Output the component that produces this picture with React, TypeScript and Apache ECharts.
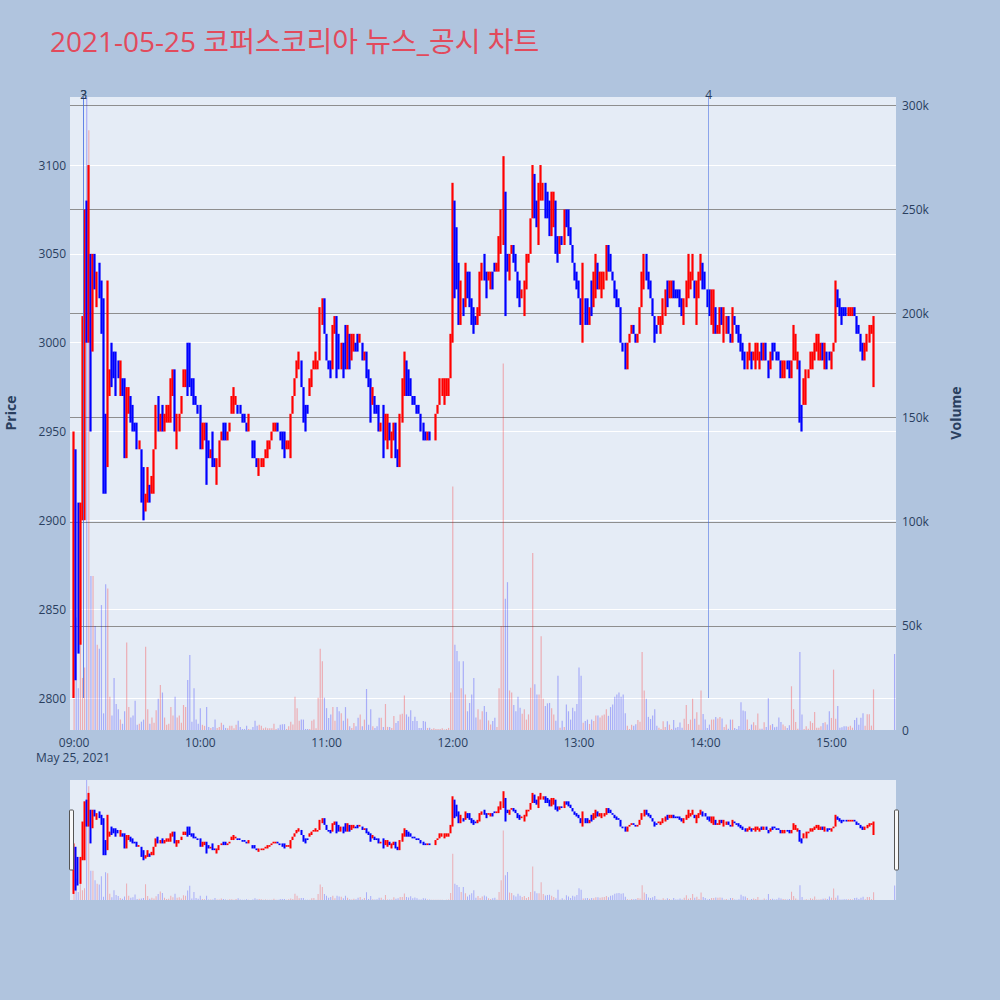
import React, { useEffect, useRef } from 'react';
import * as echarts from 'echarts';

// ---------------- data ----------------
const chartTitle = '2021-05-25 코퍼스코리아 뉴스_공시 차트';
const sessionDay = { year: 2021, month: 5, day: 25 };
const firstBarTime = '09:00';
const dateCaption = 'May 25, 2021';

// one bar per minute from 09:00: [open, close, low?, high?]
const priceBars: number[][] = [
  [2800,2950,2800,2950],[2940,2815,2810,2940],[2905,2830,2825,2910],[2830,2905,2830,2910],[2910,3015,2900,3015],[2900,3075],[3080,3005,3000,3080],[3040,3050,3000,3100],[3050,3000,2950,3050],[3000,3050,2995,3050],
  [3050,3030],[3020,3040],[3045,3025],[3035,3005],[3025,2960,2915,3025],[2960,2935,2915,2960],[2930,2980,2930,3035],[2970,2985],[3000,2980,2975,3000],[2995,2985,2980,2995],
  [2995,2970],[2990,2980],[2970,2990],[2980,2970],[2980,2935],[2935,2975],[2965,2975,2960,2975],[2970,2955],[2965,2950],[2955,2950],
  [2955,2940],[2940,2945],[2940,2930,2910,2940],[2930,2900],[2905,2915],[2915,2930,2910,2930],[2920,2910],[2915,2925],[2915,2940],[2940,2965],
  [2970,2950],[2950,2960],[2965,2950],[2950,2960],[2955,2965],[2955,2965],[2965,2980,2955,2980],[2970,2985],[2980,2950,2950,2985],[2940,2960],
  [2950,2960],[2960,2970],[2975,2985],[2975,2985],[3000,2970],[3000,2975],[2980,2970],[2980,2965],[2970,2965],[2965,2960],
  [2965,2940],[2940,2955],[2945,2955],[2955,2935,2920,2955],[2945,2935],[2935,2940],[2950,2930],[2935,2930],[2930,2935,2920,2935],[2930,2945],
  [2945,2950],[2955,2945],[2955,2945],[2945,2950],[2950,2955],[2960,2965,2960,2970],[2960,2970,2960,2975],[2965,2970],[2965,2960],[2965,2960],
  [2960,2955],[2960,2955],[2955,2950],[2950,2955,2950,2960],[2950,2950],[2945,2935],[2945,2935],[2935,2930],[2930,2935,2925,2935],[2930,2935],
  [2930,2935],[2935,2940],[2940,2945,2935,2945],[2940,2945],[2945,2950],[2950,2955],[2950,2955],[2955,2950],[2950,2945],[2950,2940],
  [2950,2935],[2940,2945],[2940,2945],[2935,2960],[2960,2970],[2970,2980],[2980,2990],[2985,2995],[2990,2975],[2975,2955],
  [2965,2950],[2965,2960],[2970,2980],[2975,2985],[2985,2990],[2985,2990,2985,2995],[2985,2990],[2990,3020],[3010,3025],[3025,3005],
  [3005,2990],[2990,2985],[2990,2980],[2985,3010],[3005,3015],[3015,2985,2980,3015],[3005,2985],[2985,3000],[3000,2985,2980,3000],[3010,2985],
  [2985,3010],[3005,2985],[2990,3005],[2995,3005],[3000,2995],[3005,2995],[3000,3005],[3000,2990],[2990,2995],[2995,2980],
  [2985,2975],[2980,2955],[2965,2975],[2970,2960],[2965,2960],[2965,2950],[2950,2955],[2965,2935],[2945,2960],[2940,2960],
  [2955,2945],[2935,2950],[2945,2955],[2955,2935],[2940,2930],[2930,2960],[2955,2980],[2970,2990,2970,2995],[2990,2970],[2985,2970],
  [2980,2970],[2970,2965],[2970,2965],[2965,2960],[2965,2960],[2960,2950],[2955,2945],[2950,2945],[2945,2950],[2950,2945],
  [2945,2945],[2945,2945],[2945,2960],[2960,2965],[2965,2980],[2970,2980],[2965,2980],[2970,2980],[2970,2980],[2980,3005],
  [3000,3065,3000,3090],[3080,3025],[3065,3030],[3045,3010],[3010,3035],[3025,3015],[3020,3045],[3040,3025],[3040,3020],[3025,3010],
  [3020,3005],[3015,3010],[3010,3020],[3015,3040],[3035,3045],[3050,3035],[3040,3025],[3035,3040],[3030,3040],[3040,3030],
  [3045,3040],[3040,3045],[3040,3060],[3050,3070,3050,3075],[3055,3100,3055,3105],[3085,3045,3015,3085],[3050,3040],[3035,3050],[3050,3055],[3055,3045],
  [3050,3040],[3040,3025],[3035,3020],[3025,3030],[3015,3035],[3030,3050],[3045,3050],[3050,3070],[3070,3100],[3095,3070],
  [3080,3065],[3065,3090,3055,3090],[3080,3095,3080,3100],[3080,3090],[3090,3070],[3085,3070],[3080,3060],[3060,3085],[3065,3085],[3080,3050],
  [3060,3045],[3050,3060],[3060,3055],[3055,3075],[3075,3065],[3075,3060],[3065,3055],[3055,3045],[3045,3035],[3040,3030],
  [3035,3025],[3025,3010],[3015,3025,3000,3045],[3025,3010],[3025,3010],[3010,3020],[3035,3015],[3020,3035,3020,3040],[3025,3040,3025,3050],[3045,3030],
  [3030,3040],[3025,3040],[3030,3040],[3035,3055],[3055,3040],[3050,3040],[3040,3035],[3035,3025],[3030,3020],[3025,3020],
  [3020,3000],[3000,2995],[3000,2985],[2985,3000],[3000,3005],[3005,3010],[3010,3005],[3005,3000],[3000,3005],[3005,3020],
  [3020,3040],[3030,3050],[3050,3035],[3040,3030],[3035,3025],[3025,3015],[3015,3000],[3010,3005],[3010,3015],[3005,3015],
  [3010,3025],[3015,3030],[3035,3020],[3025,3035],[3025,3035],[3035,3025],[3030,3025],[3030,3025],[3030,3020],[3025,3015],
  [3010,3025],[3020,3035],[3025,3040,3025,3050],[3030,3040],[3035,3050],[3035,3025],[3010,3035],[3025,3040],[3035,3050],[3045,3030],
  [3040,3030],[3030,3020],[3030,3015],[3010,3030],[3005,3030],[3020,3005],[3005,3010],[3005,3020],[3020,3010],[3000,3020],
  [3005,3015],[3015,3005],[3005,3000],[3000,3015,3000,3020],[3015,3010],[3010,3005],[3010,3000],[3005,2995],[3000,2990],[2995,2985],
  [2985,2995],[2990,3000],[2995,2985],[2990,2995],[2985,3000],[2990,3000],[2985,2995],[3000,2990],[2990,3000],[3000,2990],
  [2990,2980],[2985,2995],[3000,2990],[3000,2995],[2995,2990],[2995,2990],[2990,2980],[2980,2990],[2980,2990],[2990,2985],
  [2990,2980],[2980,2990],[2990,3005,2990,3010],[2990,3000,2990,3005],[2985,2995],[2990,2955],[2965,2955,2950,2965],[2965,2980],[2965,2985],[2980,2985],
  [2985,2995],[2985,2995],[2990,3000],[2995,3005],[2990,3005],[2990,3000],[3000,2990],[2985,3000],[2995,2985],[2995,2990],
  [2985,2995],[2995,3000],[3000,3030,3000,3035],[3030,3020],[3025,3015],[3020,3015,3010,3020],[3020,3015],[3020,3015],[3015,3020],[3015,3020],
  [3015,3020],[3020,3015],[3015,3005],[3010,3005],[3005,2995],[3000,2995,2990,3000],[2990,3000],[2995,3005],[3000,3010],[3005,3010],
  [3005,3015,2975,3015],
];

// volume per minute bar, in thousands of shares
const volumesK: number[] = [
  15,54,20,95,25,30,305,288,74,74,
  50,41,39,60,8,70,68,16,7,25,
  12.5,10,5,3,9,42,11,6,7,14,
  2.5,3,4,5,40,10,3,6,3.5,9.5,
  15,21.6,18,6,2.5,3,11,7,16,6,
  7,3.5,12,11,24,36,4,20,5,3,
  10.5,2.5,2,11,1.5,1,1.5,5,1,1.5,
  3.5,2.5,1,0.8,2,2,0.8,2.5,4.5,1.5,
  0.5,0.5,2,0.5,0.3,1.5,4.5,2,2.5,2,
  0.8,1.2,0.8,0.8,0.8,3,0.5,0.8,2.5,2.8,
  2.8,0.5,1.8,4,2.6,16,10.5,4.5,5,5,
  0.5,0.5,0.5,4.5,5,0.8,15.5,39,33,15.5,
  10.5,5.8,7.4,11,4.5,11,9,8,4.5,11,
  5.5,1.8,1,3.4,1.8,5.9,7.5,1.8,5,19.7,
  2.5,10,1.8,1,1.8,5.9,5.9,1.5,12.5,1.5,
  1.5,1,6.7,3.4,4.3,7.5,7.8,16.6,7.5,6.4,
  9.5,4.3,6.4,4.3,1,1,4.3,4,1,1.1,
  0.5,0.8,0.5,0.5,0.5,0.8,0.3,0.5,1,18,
  117,41,38,33,20,33,17,9,13,17,
  25,6,10,5,9,11.5,8.7,4.6,2.7,4.3,
  5.9,1.4,20,50,176,63,71,19,18,12,
  9,16,10.7,7.8,10,5,7.5,20.3,85,22,
  17,17,45,15,11.5,12.8,13,10.5,7.5,4.5,
  26,1.1,4.5,1.4,12.3,9,5,10.7,9,12.5,
  30,26,3.5,4.3,5,2.9,5,4.3,7,7,
  6,7,7.5,10,6.8,11,12.3,16,17,18,
  16,17,8,2,0.5,2.5,2,2.8,4.8,4,
  37.4,19,15,6.3,5.3,7,10,2,1.1,0.5,
  4.2,1.5,4.2,2.6,0.5,4.8,1.1,1.4,3.6,1.1,
  5.4,12,2.9,5,15,5.4,8.5,2.5,19,7.7,
  5,1,2.6,5,5,6.3,5.5,6.3,5.5,1.4,
  2.6,0.6,5,5,1,0.5,1.9,13.3,9.4,9,
  5,0.5,2.6,3.7,2.3,7.9,0.6,0.6,3.7,1.4,
  15.3,2.3,2.9,1.3,1.6,6,3.9,2.6,1.8,1,
  2.3,21,10,3.9,0.6,37.4,7.4,0.5,1.8,0.6,
  4.2,3.4,8.7,1.1,1.1,1.8,3.4,3.7,2.6,9,
  5.8,29,5.4,11.5,1.1,1.3,1.8,1.8,1.6,2.1,
  1.1,4.8,5.9,2.5,5.9,8,2.1,7.6,7.6,2.1,
  19.5,
];

// closing auction print at 15:30
const closingTime = '15:30';
const closingBar = [3000, 3000, 3000, 3000];
const closingVolumeK = 36.5;

// news markers
const newsLabels = ['2', '3', '4'];
const newsTimes = ['09:04:30', '09:04:30', '14:01:40'];
const newsLineFloor = 2800;

// axis ranges / ticks
const priceRange = [2782, 3138.3];
const priceStep = 50;
const volumeRangeK = [0, 304];
const volumeStepK = 50;
const timeRange = ['08:58:20', '15:30:24'];

// ---------------- styling ----------------
const FONT = "'Open Sans', 'Noto Sans CJK KR', sans-serif";
const AXIS_TEXT = '#2a3f5f';
const UP = '#ff0000';
const DOWN = '#0000ff';
const UP_VOL = 'rgba(255,0,0,0.27)';
const DOWN_VOL = 'rgba(0,0,255,0.27)';

function ts(hms: string): number {
  const [h, m, s = 0] = hms.split(':').map(Number);
  return new Date(sessionDay.year, sessionDay.month - 1, sessionDay.day, h, m, s).getTime();
}

function buildSeriesData() {
  const start = ts(firstBarTime);
  const candles: any[] = [];
  const vols: any[] = [];
  let prevClose = priceBars[0][0];
  priceBars.forEach((b, i) => {
    const [o, c, l, h] = b;
    const low = Math.min(o, c, l ?? o);
    const high = Math.max(o, c, h ?? c);
    const t = start + i * 60000;
    const up = c > o || (c === o && c >= prevClose);
    candles.push({ value: [t, o, c, low, high] });
    vols.push({ value: [t, volumesK[i]], itemStyle: { color: up ? UP_VOL : DOWN_VOL } });
    prevClose = c;
  });
  const tc = ts(closingTime);
  candles.push({
    value: [tc, closingBar[0], closingBar[1], closingBar[2], closingBar[3]],
    itemStyle: { color: DOWN, color0: DOWN, borderColor: DOWN, borderColor0: DOWN },
  });
  vols.push({ value: [tc, closingVolumeK], itemStyle: { color: DOWN_VOL } });
  return { candles, vols };
}

function buildOption() {
  const { candles, vols } = buildSeriesData();
  const tMin = ts(timeRange[0]);
  const tMax = ts(timeRange[1]);
  const labelStyle = { color: AXIS_TEXT, fontFamily: FONT, fontSize: 12 };

  const newsLines = newsLabels.map((lab, i) => [
    { name: lab, coord: [ts(newsTimes[i]), newsLineFloor] },
    { coord: [ts(newsTimes[i]), priceRange[1]] },
  ]);

  return {
    animation: false,
    backgroundColor: '#b0c4de',
    grid: [
      { left: 70, right: 104, top: 97, height: 633, show: true, backgroundColor: '#e5ecf6', borderWidth: 0, containLabel: false, outerBoundsMode: 'none' },
      { left: 70, right: 104, top: 780, height: 120, show: true, backgroundColor: '#e5ecf6', borderWidth: 0, containLabel: false, outerBoundsMode: 'none' },
    ],
    xAxis: [
      {
        type: 'time', gridIndex: 0, min: tMin, max: tMax,
        minInterval: 3600000, maxInterval: 3600000,
        axisLine: { show: false }, axisTick: { show: false }, splitLine: { show: false },
        axisLabel: { ...labelStyle, formatter: '{HH}:{mm}', margin: 6, hideOverlap: false },
      },
      { type: 'time', gridIndex: 1, min: tMin, max: tMax, show: false, splitLine: { show: false } },
    ],
    yAxis: [
      {
        type: 'value', gridIndex: 0, position: 'left', min: priceRange[0], max: priceRange[1],
        minInterval: priceStep, maxInterval: priceStep, scale: true,
        axisLine: { show: false }, axisTick: { show: false },
        splitLine: { show: true, lineStyle: { color: '#ffffff', width: 1 }, showMinLine: false, showMaxLine: false },
        axisLabel: { ...labelStyle, margin: 4, showMinLabel: false, showMaxLabel: false, formatter: (v: number) => String(v) },
      },
      {
        type: 'value', gridIndex: 0, position: 'right', min: volumeRangeK[0], max: volumeRangeK[1],
        minInterval: volumeStepK, maxInterval: volumeStepK,
        axisLine: { show: false }, axisTick: { show: false },
        splitLine: { show: true, lineStyle: { color: '#8e8e8e', width: 1.2 }, showMinLine: false, showMaxLine: false },
        axisLabel: { ...labelStyle, margin: 6, showMaxLabel: false, formatter: (v: number) => (v === 0 ? '0' : `${v}k`) },
      },
      { type: 'value', gridIndex: 1, min: priceRange[0], max: priceRange[1], show: false, splitLine: { show: false }, scale: true },
      { type: 'value', gridIndex: 1, min: volumeRangeK[0], max: volumeRangeK[1], show: false, splitLine: { show: false } },
    ],
    series: [
      {
        type: 'candlestick', xAxisIndex: 0, yAxisIndex: 0, z: 2,
        encode: { x: 0, y: [1, 2, 3, 4] },
        barWidth: 1.2,
        itemStyle: { color: UP, color0: DOWN, borderColor: UP, borderColor0: DOWN, borderWidth: 2.2 },
        data: candles,
        markLine: {
          silent: true, symbol: 'none', animation: false,
          lineStyle: { color: 'rgba(65,105,225,0.55)', width: 1, type: 'solid' },
          label: { show: true, position: 'end', formatter: '{b}', color: AXIS_TEXT, fontFamily: FONT, fontSize: 12, distance: -3 },
          emphasis: { disabled: true },
          data: newsLines,
        },
      },
      {
        type: 'bar', xAxisIndex: 0, yAxisIndex: 1, z: 3, barWidth: 1.2,
        encode: { x: 0, y: 1 },
        data: vols,
      },
      {
        type: 'candlestick', xAxisIndex: 1, yAxisIndex: 2, z: 2,
        encode: { x: 0, y: [1, 2, 3, 4] },
        barWidth: 1,
        itemStyle: { color: UP, color0: DOWN, borderColor: UP, borderColor0: DOWN, borderWidth: 2 },
        data: candles,
      },
      {
        type: 'bar', xAxisIndex: 1, yAxisIndex: 3, z: 3, barWidth: 1,
        encode: { x: 0, y: 1 },
        data: vols,
      },
    ],
    graphic: [
      { type: 'text', x: 50, y: 41, style: { text: chartTitle, fill: '#e24a5c', font: `28px ${FONT}`, verticalAlign: 'middle', align: 'left' } },
      { type: 'text', x: 10, y: 413, rotation: Math.PI / 2, style: { text: 'Price', fill: AXIS_TEXT, font: `bold 14px ${FONT}`, align: 'center', verticalAlign: 'middle' } },
      { type: 'text', x: 955, y: 413, rotation: Math.PI / 2, style: { text: 'Volume', fill: AXIS_TEXT, font: `bold 14px ${FONT}`, align: 'center', verticalAlign: 'middle' } },
      { type: 'text', x: 73, y: 757, style: { text: dateCaption, fill: AXIS_TEXT, font: `12px ${FONT}`, align: 'center', verticalAlign: 'middle' } },
      { type: 'rect', shape: { x: 69.5, y: 810, width: 4, height: 60, r: 1 }, style: { fill: '#f8f8f8', stroke: '#555', lineWidth: 1 }, z: 10 },
      { type: 'rect', shape: { x: 894.5, y: 810, width: 4, height: 60, r: 1 }, style: { fill: '#f8f8f8', stroke: '#555', lineWidth: 1 }, z: 10 },
    ],
  };
}

export default function App() {
  const ref = useRef<HTMLDivElement>(null);
  useEffect(() => {
    if (!ref.current) return;
    const chart = echarts.init(ref.current, null, { renderer: 'svg' });
    chart.setOption(buildOption() as any);
    return () => chart.dispose();
  }, []);
  return <div ref={ref} style={{ position: 'fixed', left: 0, top: 0, width: 1000, height: 1000 }} />;
}
